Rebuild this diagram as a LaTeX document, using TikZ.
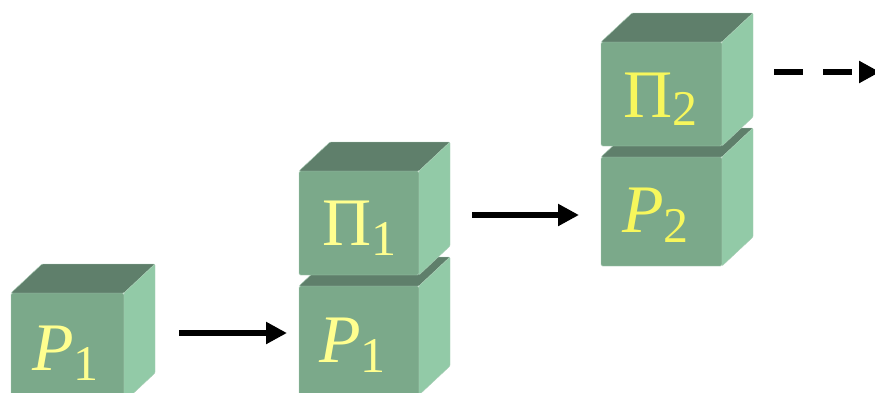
\documentclass[tikz,border=0pt]{standalone}
\usepackage{fontspec}
\setmainfont{Liberation Serif}
\usetikzlibrary{arrows.meta}
\definecolor{cfront}{HTML}{7BA98A}
\definecolor{ctop}{HTML}{5F7F6B}
\definecolor{cside}{HTML}{92CAA7}
\definecolor{cedge}{HTML}{A9CDB5}
\definecolor{lblA}{HTML}{FFFF8F}
\definecolor{lblB}{HTML}{F7F75C}
\newcommand{\mainfs}{\fontsize{68}{68}\selectfont}
\newcommand{\subfs}{\fontsize{50}{50}\selectfont}
\newcommand{\lbl}[3]{{\mainfs#1}\raisebox{#3}{\subfs#2}}
\newcommand{\cube}[5]{%
  \node[front, minimum width=#4, minimum height=#5, anchor=north west] (#1) at (#2,#3) {};
  \filldraw[topface] (#1.north west) -- ++(31,-29) -- ++(#4,0) -- (#1.north east) -- cycle;
  \filldraw[sideface] (#1.north east) -- ++(31,-29) -- ++(0,#5) -- (#1.south east) -- cycle;
}
\tikzset{
  front/.style={fill=cfront, draw=cedge, line width=0.4pt, inner sep=0pt, outer sep=0pt, rounded corners=1.5pt},
  topface/.style={fill=ctop, draw=cedge, line width=0.4pt, rounded corners=1pt},
  sideface/.style={fill=cside, draw=cedge, line width=0.4pt, rounded corners=1pt},
  lab/.style={inner sep=0pt, outer sep=0pt, anchor=base west},
  arr/.style={line width=6.5pt, -{Triangle[length=21pt,width=21pt]}},
}
\begin{document}
\begin{tikzpicture}[x=1pt,y=-1pt]
\useasboundingbox (0,0) rectangle (875,392);
% cube 1
\cube{c1}{11}{293}{113}{109}
\node[lab, text=lblA] (t1) at (32,370) {\lbl{\itshape P}{1}{-10pt}};
% stack 2
\cube{c2b}{299}{286}{120}{109}
\cube{c2t}{299}{171}{120}{104}
\node[lab, text=lblA] (t2b) at (319,362) {\lbl{\itshape P}{1}{-10pt}};
\node[lab, text=lblA] (t2t) at (322,245) {\lbl{Π}{1}{-10pt}};
% stack 3
\cube{c3b}{601}{157}{121}{109}
\cube{c3t}{601}{42}{121}{104}
\node[lab, text=lblB] (t3b) at (622,232) {\lbl{\itshape P}{2}{-10pt}};
\node[lab, text=lblB] (t3t) at (623,117) {\lbl{Π}{2}{-8pt}};
% arrows
\coordinate (a1s) at (179,333);
\coordinate (a2s) at (472,215);
\coordinate (a3s) at (774,72);
\coordinate (a3e) at (880,72);
\draw[arr] (a1s) -- ([xshift=-12pt]a1s -| c2b.west);
\draw[arr] (a2s) -- ([xshift=-22pt]a2s -| c3b.west);
\draw[arr, dash pattern=on 29pt off 20pt] (a3s) -- (a3e);
\end{tikzpicture}
\end{document}
